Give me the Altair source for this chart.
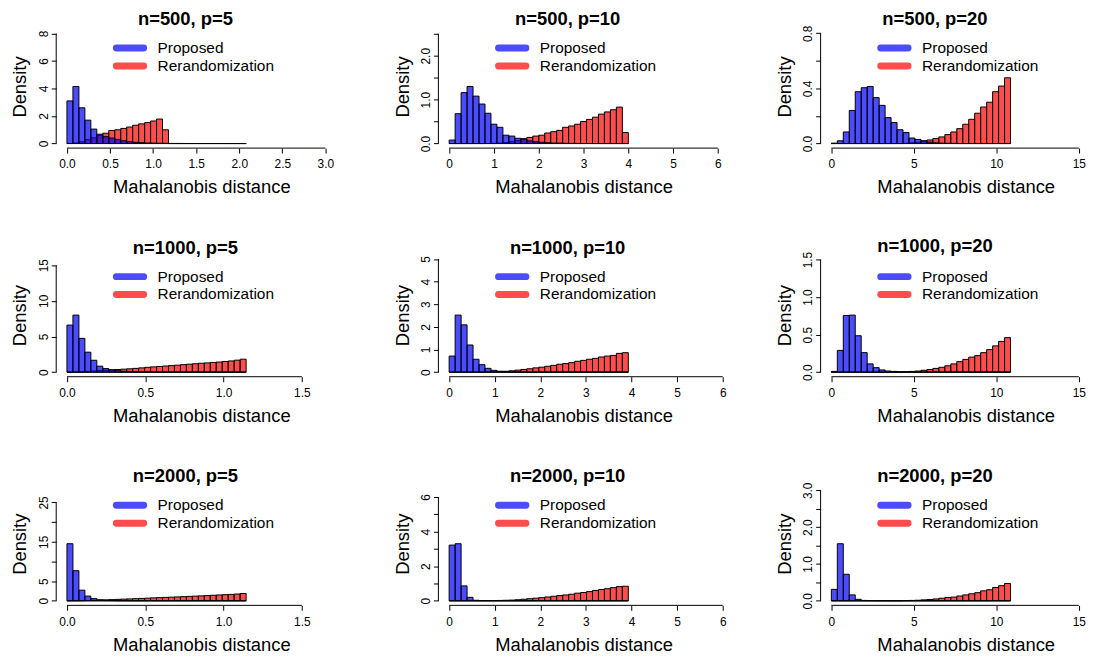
import altair as alt
import numpy as np
import pandas as pd

FONT = "Liberation Sans"
BLUE = "#0000ff"
RED = "#ff0000"

series_names = ["Proposed", "Rerandomization"]
panel_titles = ["n=500, p=5", "n=500, p=10", "n=500, p=20",
                "n=1000, p=5", "n=1000, p=10", "n=1000, p=20",
                "n=2000, p=5", "n=2000, p=10", "n=2000, p=20"]
n_bins = 30
data_max = [2.08, 4.0, 10.86, 1.144, 3.93, 10.86, 1.144, 3.93, 10.86]

p1_proposed = [3.10, 4.15, 2.60, 1.70, 1.05, 0.68, 0.50, 0.40, 0.30, 0.20, 0.13, 0.09, 0.06, 0.04, 0.03,
               0.02, 0.015, 0.01, 0.008, 0.006, 0.004, 0.003, 0.002, 0.002, 0.001, 0.001, 0.001, 0.0, 0.0, 0.001]
p1_rerand = [0.01, 0.04, 0.13, 0.28, 0.42, 0.60, 0.75, 0.95, 1.00, 1.10, 1.20, 1.33, 1.43, 1.52, 1.64,
             1.78, 1.00, 0, 0, 0, 0, 0, 0, 0, 0, 0, 0, 0, 0, 0]
p2_proposed = [0.08, 0.68, 1.16, 1.30, 1.08, 0.90, 0.69, 0.44, 0.37, 0.19, 0.17, 0.12, 0.10, 0.06, 0.04,
               0.03, 0.02, 0.01, 0.01, 0.005, 0.003, 0.002, 0.001, 0.001, 0, 0, 0, 0, 0, 0]
p2_rerand = [0, 0, 0, 0, 0, 0, 0.002, 0.005, 0.01, 0.02, 0.04, 0.07, 0.11, 0.14, 0.17,
             0.19, 0.24, 0.27, 0.30, 0.37, 0.40, 0.44, 0.50, 0.55, 0.60, 0.67, 0.72, 0.77, 0.83, 0.25]
p3_proposed = [0.003, 0.02, 0.084, 0.24, 0.376, 0.405, 0.414, 0.333, 0.277, 0.188, 0.152, 0.10, 0.08, 0.04, 0.03,
               0.02, 0.01, 0.005, 0.003, 0.002, 0.001, 0, 0, 0, 0, 0, 0, 0, 0, 0]
p3_rerand = [0, 0, 0, 0, 0, 0, 0, 0, 0, 0, 0, 0, 0.002, 0.005, 0.01,
             0.018, 0.026, 0.036, 0.048, 0.065, 0.084, 0.108, 0.14, 0.176, 0.22, 0.265, 0.30, 0.376, 0.417, 0.477]
p4_proposed = [6.60, 8.00, 4.74, 2.80, 1.67, 0.84, 0.50, 0.32, 0.20, 0.12, 0.07, 0.04, 0.03, 0.02, 0.01,
               0.005, 0.003, 0.002, 0.001, 0, 0, 0, 0, 0, 0, 0, 0, 0, 0, 0]
p4_rerand = [0.0, 0.02, 0.05, 0.10, 0.16, 0.22, 0.27, 0.32, 0.37, 0.42, 0.47, 0.53, 0.60, 0.68, 0.74,
             0.80, 0.86, 0.92, 0.98, 1.05, 1.12, 1.18, 1.25, 1.30, 1.36, 1.42, 1.50, 1.57, 1.68, 1.82]
p5_proposed = [0.71, 2.52, 2.09, 1.20, 0.57, 0.33, 0.17, 0.08, 0.04, 0.02, 0.01, 0.005, 0.003, 0.002, 0.001,
               0, 0, 0, 0, 0, 0, 0, 0, 0, 0, 0, 0, 0, 0, 0]
p5_rerand = [0, 0, 0, 0, 0, 0.005, 0.01, 0.02, 0.03, 0.04, 0.06, 0.09, 0.12, 0.15, 0.19,
             0.22, 0.26, 0.30, 0.35, 0.38, 0.42, 0.48, 0.52, 0.57, 0.61, 0.67, 0.71, 0.74, 0.83, 0.86]
p6_proposed = [0.01, 0.29, 0.755, 0.76, 0.485, 0.26, 0.11, 0.06, 0.03, 0.015, 0.01, 0.005, 0.003, 0.002, 0.001,
               0, 0, 0, 0, 0, 0, 0, 0, 0, 0, 0, 0, 0, 0, 0]
p6_rerand = [0, 0, 0, 0, 0, 0, 0, 0, 0, 0, 0, 0.002, 0.005, 0.01, 0.015,
             0.025, 0.035, 0.05, 0.065, 0.085, 0.11, 0.14, 0.17, 0.20, 0.22, 0.26, 0.30, 0.35, 0.41, 0.46]
p7_proposed = [14.5, 7.65, 2.70, 1.20, 0.55, 0.25, 0.10, 0.05, 0.02, 0.01, 0.005, 0.002, 0.001, 0, 0,
               0, 0, 0, 0, 0, 0, 0, 0, 0, 0, 0, 0, 0, 0, 0]
p7_rerand = [0, 0.01, 0.03, 0.07, 0.12, 0.18, 0.24, 0.30, 0.36, 0.42, 0.48, 0.54, 0.60, 0.67, 0.74,
             0.80, 0.86, 0.92, 0.98, 1.05, 1.12, 1.18, 1.25, 1.32, 1.40, 1.48, 1.55, 1.62, 1.72, 1.85]
p8_proposed = [3.22, 3.30, 0.86, 0.20, 0.03, 0.01, 0.005, 0.002, 0.001, 0, 0, 0, 0, 0, 0,
               0, 0, 0, 0, 0, 0, 0, 0, 0, 0, 0, 0, 0, 0, 0]
p8_rerand = [0, 0, 0, 0, 0, 0, 0.003, 0.01, 0.02, 0.03, 0.04, 0.06, 0.09, 0.12, 0.15,
             0.18, 0.22, 0.26, 0.30, 0.34, 0.38, 0.44, 0.48, 0.53, 0.60, 0.65, 0.70, 0.76, 0.82, 0.84]
p9_proposed = [0.31, 1.55, 0.72, 0.16, 0.04, 0.01, 0.005, 0.002, 0.001, 0, 0, 0, 0, 0, 0,
               0, 0, 0, 0, 0, 0, 0, 0, 0, 0, 0, 0, 0, 0, 0]
p9_rerand = [0, 0, 0, 0, 0, 0, 0, 0, 0, 0, 0, 0, 0.005, 0.01, 0.015,
             0.025, 0.035, 0.05, 0.07, 0.09, 0.10, 0.13, 0.16, 0.19, 0.22, 0.27, 0.30, 0.36, 0.41, 0.47]

proposed = [p1_proposed, p2_proposed, p3_proposed, p4_proposed, p5_proposed,
            p6_proposed, p7_proposed, p8_proposed, p9_proposed]
rerand = [p1_rerand, p2_rerand, p3_rerand, p4_rerand, p5_rerand,
          p6_rerand, p7_rerand, p8_rerand, p9_rerand]

xt_a = [0, 0.5, 1, 1.5, 2, 2.5, 3]
xl_a = ["0.0", "0.5", "1.0", "1.5", "2.0", "2.5", "3.0"]
xt_b = [0, 1, 2, 3, 4, 5, 6]
xl_b = ["0", "1", "2", "3", "4", "5", "6"]
xt_c = [0, 5, 10, 15]
xl_c = ["0", "5", "10", "15"]
xt_d = [0, 0.5, 1, 1.5]
xl_d = ["0.0", "0.5", "1.0", "1.5"]
x_ticks = [xt_a, xt_b, xt_c, xt_d, xt_b, xt_c, xt_d, xt_b, xt_c]
x_labels = [xl_a, xl_b, xl_c, xl_d, xl_b, xl_c, xl_d, xl_b, xl_c]

y_ticks = [[0, 2, 4, 6, 8], [0, 0.5, 1, 1.5, 2, 2.5], [0, 0.2, 0.4, 0.6, 0.8],
           [0, 5, 10, 15], [0, 1, 2, 3, 4, 5], [0, 0.5, 1, 1.5],
           [0, 5, 10, 15, 20, 25], [0, 1, 2, 3, 4, 5, 6], [0, 0.5, 1, 1.5, 2, 2.5, 3]]
y_labels = [["0", "2", "4", "6", "8"], ["0.0", "", "1.0", "", "2.0", ""], ["0.0", "", "0.4", "", "0.8"],
            ["0", "5", "10", "15"], ["0", "1", "2", "3", "4", "5"], ["0.0", "0.5", "1.0", "1.5"],
            ["0", "5", "", "15", "", "25"], ["0", "", "2", "", "4", "", "6"],
            ["0.0", "", "1.0", "", "2.0", "", "3.0"]]

# layout
PW = 292      # plot-region width (R usr region)
PW3 = 262     # drawn width of the third column (keeps same scale)
PH = 124
COL_GAP = 92.5
ROW_GAP = 106


def label_expr(ticks, labels):
    expr = "''"
    for t, l in zip(reversed(ticks), reversed(labels)):
        expr = f"(abs(datum.value - {t!r}) < 1e-9 ? '{l}' : {expr})"
    return expr


def panel(i):
    edges = np.linspace(0, data_max[i], n_bins + 1)
    rows = []
    for name, vals in zip(series_names, [proposed[i], rerand[i]]):
        for k, v in enumerate(vals):
            rows.append({"series": name, "lo": edges[k], "hi": edges[k + 1], "density": v})
    df = pd.DataFrame(rows)

    xl = 1.5 * data_max[i]
    yl = 2 * max(proposed[i])
    xdom = [-0.04 * xl, 1.04 * xl]
    col = i % 3
    W = PW if col < 2 else PW3
    if col == 2:
        xdom = [xdom[0], xdom[0] + (xdom[1] - xdom[0]) * W / PW]
    ydom = [-0.04 * yl, 1.04 * yl]

    xscale = alt.Scale(domain=xdom, nice=False, zero=False)
    yscale = alt.Scale(domain=ydom, nice=False, zero=False)
    xaxis = alt.Axis(values=x_ticks[i], labelExpr=label_expr(x_ticks[i], x_labels[i]),
                     title="Mahalanobis distance", domain=False, grid=False,
                     tickSize=5, tickColor="black", tickWidth=1,
                     labelFont=FONT, labelFontSize=12, labelColor="black",
                     labelPadding=15, labelBaseline="alphabetic", labelAlign="center",
                     labelFlush=False, labelOverlap=False, labelAngle=0,
                     titleFont=FONT, titleFontSize=18.5, titleFontWeight="normal",
                     titleColor="black", titleX=PW / 2, titleY=45,
                     titleBaseline="alphabetic", titleAlign="center", titleAngle=0)
    yaxis = alt.Axis(values=y_ticks[i], labelExpr=label_expr(y_ticks[i], y_labels[i]),
                     title="Density", domain=False, grid=False,
                     tickSize=5, tickColor="black", tickWidth=1,
                     labelFont=FONT, labelFontSize=12, labelColor="black",
                     labelPadding=4, labelAngle=270, labelAlign="center",
                     labelBaseline="alphabetic", labelFlush=False, labelOverlap=False,
                     titleFont=FONT, titleFontSize=18.5, titleFontWeight="normal",
                     titleColor="black", titleX=-30.5, titleY=PH / 2, titleAngle=270,
                     titleBaseline="alphabetic", titleAlign="center")

    X = alt.X("lo:Q", scale=xscale, axis=xaxis)
    Y = alt.Y("density:Q", scale=yscale, axis=yaxis)
    base = alt.Chart(df)
    bars = []
    for name, colr in [("Rerandomization", RED), ("Proposed", BLUE)]:
        bars.append(base.transform_filter(alt.datum.series == name).mark_bar(
            fill=colr, fillOpacity=0.7, stroke="black", strokeWidth=1, strokeOpacity=1
        ).encode(x=X, x2="hi:Q", y=Y, y2=alt.Y2Datum(0)))

    one = alt.Chart(pd.DataFrame({"k": [0]}))
    xline = one.mark_rule(color="black", strokeWidth=1).encode(
        x=alt.XDatum(x_ticks[i][0], type="quantitative", scale=xscale, axis=xaxis),
        x2=alt.X2Datum(x_ticks[i][-1]),
        y=alt.YDatum(ydom[0], type="quantitative", scale=yscale, axis=yaxis))
    yline = one.mark_rule(color="black", strokeWidth=1).encode(
        x=alt.XDatum(xdom[0], type="quantitative", scale=xscale, axis=xaxis),
        y=alt.YDatum(y_ticks[i][0], type="quantitative", scale=yscale, axis=yaxis),
        y2=alt.Y2Datum(y_ticks[i][-1]))

    legend = []
    for k, (name, colr) in enumerate(zip(series_names, [BLUE, RED])):
        yy = PH - 100.7 + 18 * k
        legend.append(one.mark_rule(color=colr, strokeWidth=7, strokeCap="round", opacity=0.7).encode(
            x=alt.value(60.5), x2=alt.value(88), y=alt.value(yy)))
        legend.append(one.mark_text(text=name, align="left", baseline="middle", font=FONT,
                                    fontSize=15.5, color="black").encode(
            x=alt.value(102), y=alt.value(yy)))

    return alt.layer(*bars, xline, yline, *legend).properties(
        width=W, height=PH,
        title=alt.TitleParams(panel_titles[i], font=FONT, fontSize=18.5, fontWeight="bold",
                              color="black", anchor="middle", dx=-16, offset=-3.8,
                              baseline="top"))


chart = alt.concat(*[panel(i) for i in range(9)], columns=3,
                   spacing={"row": ROW_GAP, "column": COL_GAP}, bounds="flush").configure_view(
    stroke=None).properties(padding={"left": 2.5, "top": 0, "right": 0, "bottom": 0},
                            background="white")

chart.save("out.html", embed_options={"renderer": "svg", "actions": False})
